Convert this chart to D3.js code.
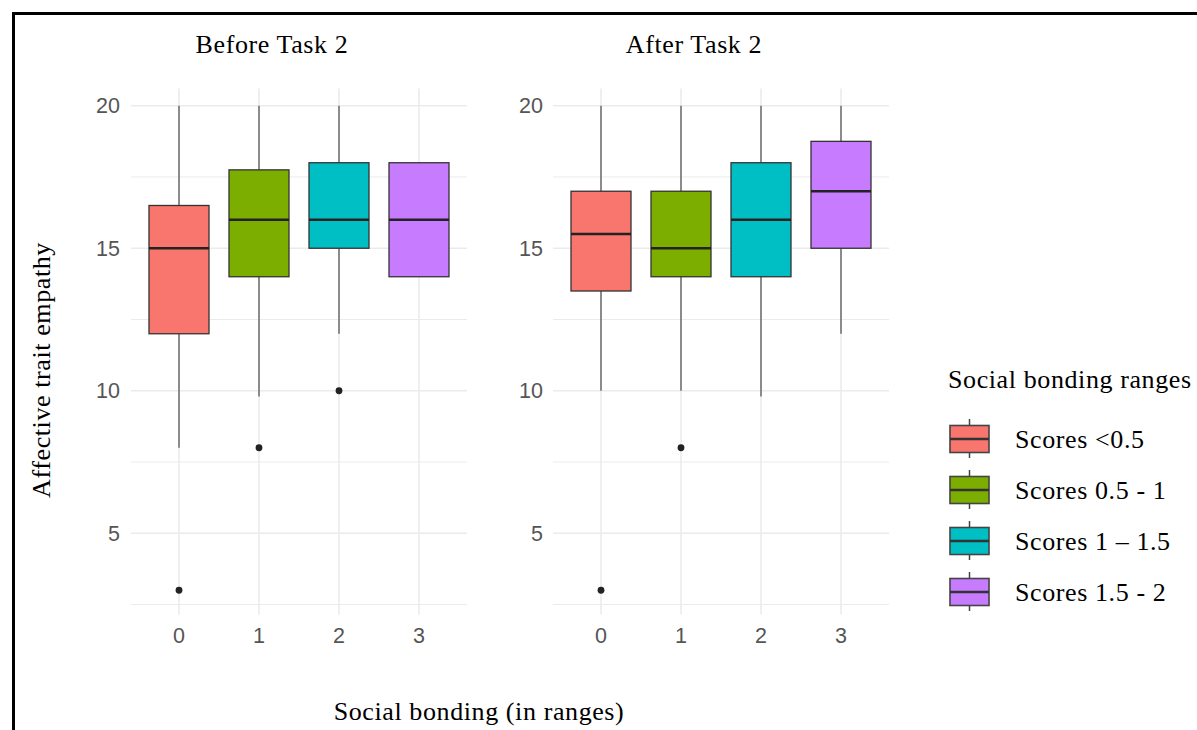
<!DOCTYPE html>
<html>
<head>
<meta charset="utf-8">
<script src="https://cdn.jsdelivr.net/npm/d3@7"></script>
<style>
  body { margin: 0; background: #fff; }
  svg { display: block; }
  .serif { font-family: "Liberation Serif", "Times New Roman", serif; font-size: 26px; letter-spacing: 0.6px; fill: #000; }
</style>
</head>
<body>
<svg width="1197" height="730"></svg>
<script>
// box stats
const categories = ['0', '1', '2', '3']
const legendLabels = ['Scores <0.5', 'Scores 0.5 - 1', 'Scores 1 \u2013 1.5', 'Scores 1.5 - 2']
const colors = ['#F8766D', '#7CAE00', '#00BFC4', '#C77CFF']
const panelTitles = ['Before Task 2', 'After Task 2']

// [lower whisker, q1, median, q3, upper whisker]
const beforeStats = [
    [8, 12, 15, 16.5, 20],
    [9.8, 14, 16, 17.75, 20],
    [12, 15, 16, 18, 20],
    [14, 14, 16, 18, 18],
]
const beforeOutliers = [[3], [8], [10], []]

const afterStats = [
    [10, 13.5, 15.5, 17, 20],
    [10, 14, 15, 17, 20],
    [9.8, 14, 16, 18, 20],
    [12, 15, 17, 18.75, 20],
]
const afterOutliers = [[3], [8], [], []]

const yTicks = [5, 10, 15, 20]
const yMinor = [2.5, 7.5, 12.5, 17.5]

const svg = d3.select('svg')
const sans = '"Liberation Sans", Arial, sans-serif'

// frame
svg.append('path')
    .attr('d', 'M13.5,730 V13.5 H1197')
    .attr('fill', 'none')
    .attr('stroke', '#000')
    .attr('stroke-width', 3)

const y = d3.scaleLinear()
    .domain([2.15, 20.85])
    .range([614.5, 81.5])

const panels = [
    { left: 131, title: panelTitles[0], stats: beforeStats, outliers: beforeOutliers, labelX: 120 },
    { left: 553, title: panelTitles[1], stats: afterStats, outliers: afterOutliers, labelX: 543 },
]

panels.forEach(p => {
    const x = d3.scaleBand()
        .domain(categories)
        .range([p.left, p.left + 336])
        .paddingInner(0)
        .paddingOuter(0.1)
    const cx = d => x(d) + x.bandwidth() / 2
    const boxW = x.bandwidth() * 0.75

    const g = svg.append('g')

    // grid
    g.selectAll('.minor').data(yMinor).enter().append('line')
        .attr('x1', p.left).attr('x2', p.left + 336)
        .attr('y1', d => y(d)).attr('y2', d => y(d))
        .attr('stroke', '#EBEBEB').attr('stroke-width', 1)
    g.selectAll('.major').data(yTicks).enter().append('line')
        .attr('x1', p.left).attr('x2', p.left + 336)
        .attr('y1', d => y(d)).attr('y2', d => y(d))
        .attr('stroke', '#EBEBEB').attr('stroke-width', 1.6)
    g.selectAll('.vgrid').data(categories).enter().append('line')
        .attr('x1', cx).attr('x2', cx)
        .attr('y1', y.range()[1] + 7).attr('y2', y.range()[0])
        .attr('stroke', '#EBEBEB').attr('stroke-width', 1.6)

    // axes labels
    g.selectAll('.ylab').data(yTicks).enter().append('text')
        .attr('x', p.labelX).attr('y', d => y(d))
        .attr('dy', '0.35em')
        .attr('text-anchor', 'end')
        .attr('font-family', sans).attr('font-size', 21.5)
        .attr('fill', '#555')
        .text(d => d)
    g.selectAll('.xlab').data(categories).enter().append('text')
        .attr('x', cx).attr('y', 635)
        .attr('dy', '0.35em')
        .attr('text-anchor', 'middle')
        .attr('font-family', sans).attr('font-size', 21.5)
        .attr('fill', '#555')
        .text(d => d)

    g.append('text')
        .attr('class', 'serif')
        .attr('x', p.left + 168 - 27).attr('y', 53)
        .attr('text-anchor', 'middle')
        .text(p.title)

    // boxes
    const box = g.selectAll('.box').data(p.stats).enter().append('g')
    box.append('line')
        .attr('x1', (d, i) => cx(categories[i])).attr('x2', (d, i) => cx(categories[i]))
        .attr('y1', d => y(d[4])).attr('y2', d => y(d[3]))
        .attr('stroke', '#555').attr('stroke-width', 1.3)
    box.append('line')
        .attr('x1', (d, i) => cx(categories[i])).attr('x2', (d, i) => cx(categories[i]))
        .attr('y1', d => y(d[1])).attr('y2', d => y(d[0]))
        .attr('stroke', '#555').attr('stroke-width', 1.3)
    box.append('rect')
        .attr('x', (d, i) => cx(categories[i]) - boxW / 2)
        .attr('width', boxW)
        .attr('y', d => y(d[3]))
        .attr('height', d => y(d[1]) - y(d[3]))
        .attr('fill', (d, i) => colors[i])
        .attr('stroke', '#333').attr('stroke-width', 1.3)
    box.append('line')
        .attr('x1', (d, i) => cx(categories[i]) - boxW / 2)
        .attr('x2', (d, i) => cx(categories[i]) + boxW / 2)
        .attr('y1', d => y(d[2])).attr('y2', d => y(d[2]))
        .attr('stroke', '#222').attr('stroke-width', 2.6)

    p.outliers.forEach((arr, i) => {
        g.selectAll(null).data(arr).enter().append('circle')
            .attr('cx', cx(categories[i]))
            .attr('cy', d => y(d))
            .attr('r', 3.4)
            .attr('fill', '#222')
    })
})

// axis titles
svg.append('text')
    .attr('class', 'serif')
    .attr('transform', 'translate(50,370) rotate(-90)')
    .attr('text-anchor', 'middle')
    .text('Affective trait empathy')

svg.append('text')
    .attr('class', 'serif')
    .attr('x', 479).attr('y', 720)
    .attr('text-anchor', 'middle')
    .text('Social bonding (in ranges)')

// legend
const legend = svg.append('g')
legend.append('text')
    .attr('class', 'serif')
    .attr('x', 948).attr('y', 388)
    .text('Social bonding ranges')

const keys = legend.selectAll('.key').data(legendLabels).enter().append('g')
    .attr('transform', (d, i) => `translate(950,${439 + i * 51})`)
keys.append('line')
    .attr('x1', 19.5).attr('x2', 19.5).attr('y1', -20).attr('y2', 19)
    .attr('stroke', '#444').attr('stroke-width', 1.5)
keys.append('rect')
    .attr('x', 0).attr('y', -13.5).attr('width', 39).attr('height', 27)
    .attr('fill', (d, i) => colors[i])
    .attr('stroke', '#444').attr('stroke-width', 1.6)
keys.append('line')
    .attr('x1', 0).attr('x2', 39).attr('y1', 0).attr('y2', 0)
    .attr('stroke', '#333').attr('stroke-width', 2.4)
keys.append('text')
    .attr('class', 'serif')
    .attr('x', 65).attr('y', 0)
    .attr('dy', '0.33em')
    .text(d => d)
</script>
</body>
</html>
